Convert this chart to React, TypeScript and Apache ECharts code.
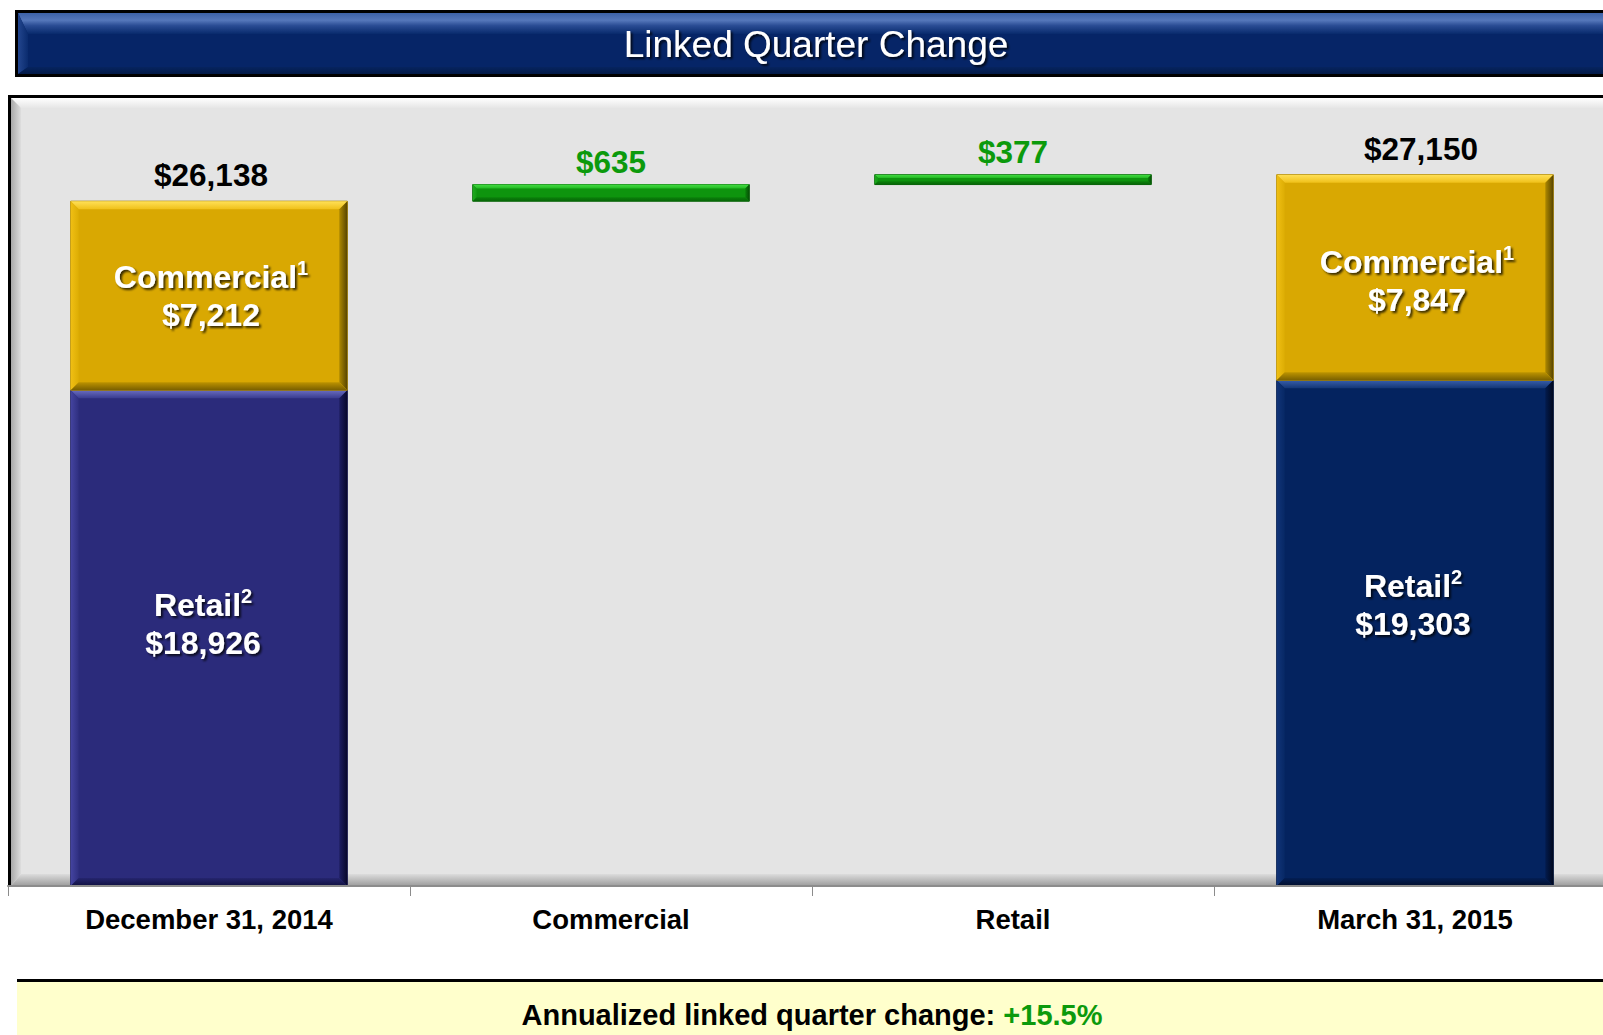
import React, { useEffect, useRef } from "react";
import * as echarts from "echarts";

// ---------- data ----------
const categories = ["December 31, 2014", "Commercial", "Retail", "March 31, 2015"];
const periodCategoryIndex = [0, 3];
const retailBalances = [18926, 19303];
const commercialBalances = [7212, 7847];
const periodTotals = [26138, 27150];
const changeCategoryIndex = [1, 2];
const changeValues = [635, 377];
const annualizedChange = "+15.5%";
const titleText = "Linked Quarter Change";
const bannerLabel = "Annualized linked quarter change: ";
const yAxisMax = 30000;

// ---------- styles ----------
const FONT = "Arial, 'Liberation Sans', Helvetica, sans-serif";
const BAR_RATIO = 0.688;
const retailLabelShift = [
  [-6, -14],
  [-2, -28],
];
const commercialLabelShift = [
  [2, 0],
  [2, 4],
];
const totalLabelShift = [2, 6];

const retailPalettes = [
  {
    face: "#2B2B7B",
    outline: "#1a1a55",
    top: ["#6A6DC0", "#3A3C90"],
    left: ["#4444a0", "#2f2f80"],
    right: ["#08082a", "#1e1e62"],
    bottom: ["#101040", "#25256e"],
  },
  {
    face: "#04235F",
    outline: "#021640",
    top: ["#385eaa", "#143676"],
    left: ["#113478", "#072865"],
    right: ["#00081e", "#031b4e"],
    bottom: ["#010e2c", "#031e54"],
  },
];
const commercialPalette = {
  face: "#D9A802",
  outline: "#a88200",
  top: ["#FFE058", "#F0C11A"],
  left: ["#F0BF14", "#DDAD04"],
  right: ["#574400", "#ad8800"],
  bottom: ["#7a6000", "#bd9400"],
};
const greenPalette = {
  face: "#0E940E",
  outline: "#0a600a",
  top: ["#44dd44", "#22b822"],
  left: ["#1faa1f", "#139a13"],
  right: ["#055005", "#0a800a"],
  bottom: ["#066606", "#0b820b"],
};

function grad(x: number, y: number, x2: number, y2: number, c0: string, c1: string) {
  return new echarts.graphic.LinearGradient(x, y, x2, y2, [
    { offset: 0, color: c0 },
    { offset: 1, color: c1 },
  ]);
}

function bevelRect(l: number, t: number, r: number, b: number, w: number, c: any) {
  return [
    {
      type: "rect",
      shape: { x: l, y: t, width: r - l, height: b - t },
      style: { fill: c.face, stroke: c.outline, lineWidth: 1 },
    },
    {
      type: "polygon",
      shape: { points: [[l, t], [r, t], [r - w, t + w], [l + w, t + w]] },
      style: { fill: grad(0, 0, 0, 1, c.top[0], c.top[1]) },
    },
    {
      type: "polygon",
      shape: { points: [[l, t], [l + w, t + w], [l + w, b - w], [l, b]] },
      style: { fill: grad(0, 0, 1, 0, c.left[0], c.left[1]) },
    },
    {
      type: "polygon",
      shape: { points: [[r, t], [r, b], [r - w, b - w], [r - w, t + w]] },
      style: { fill: grad(1, 0, 0, 0, c.right[0], c.right[1]) },
    },
    {
      type: "polygon",
      shape: { points: [[l, b], [l + w, b - w], [r - w, b - w], [r, b]] },
      style: { fill: grad(0, 1, 0, 0, c.bottom[0], c.bottom[1]) },
    },
  ];
}

const money = (v: number) => "$" + v.toLocaleString("en-US");

// ---------- series data built from arrays ----------
const retailData = periodCategoryIndex.map((c, i) => [c, 0, retailBalances[i], retailBalances[i]]);
const commercialData = periodCategoryIndex.map((c, i) => [
  c,
  retailBalances[i],
  retailBalances[i] + commercialBalances[i],
  commercialBalances[i],
  periodTotals[i],
]);
let running = periodTotals[0];
const changeData = changeCategoryIndex.map((c, i) => {
  const item = [c, running, running + changeValues[i], changeValues[i]];
  running += changeValues[i];
  return item;
});

function geom(api: any) {
  const cat = api.value(0);
  const p0 = api.coord([cat, api.value(1)]);
  const p1 = api.coord([cat, api.value(2)]);
  const bw = api.size([1, 0])[0] * BAR_RATIO;
  return { cx: p0[0], l: p0[0] - bw / 2, r: p0[0] + bw / 2, t: p1[1], b: p0[1] };
}

const whiteLabelStyle = {
  fill: "#ffffff",
  fontSize: 32,
  fontWeight: "bold",
  fontFamily: FONT,
  align: "center",
  verticalAlign: "middle",
  lineHeight: 38,
  textShadowColor: "rgba(0,0,0,0.75)",
  textShadowOffsetX: 2,
  textShadowOffsetY: 2,
  textShadowBlur: 2,
  rich: {
    s: {
      fill: "#ffffff",
      fontSize: 20,
      fontWeight: "bold",
      fontFamily: FONT,
      lineHeight: 28,
      verticalAlign: "top",
      textShadowColor: "rgba(0,0,0,0.75)",
      textShadowOffsetX: 2,
      textShadowOffsetY: 2,
      textShadowBlur: 2,
    },
  },
};

const renderRetail = (params: any, api: any) => {
  const g = geom(api);
  const i = params.dataIndex;
  const children: any[] = bevelRect(g.l, g.t, g.r, g.b, 8, retailPalettes[i]);
  children.push({
    type: "text",
    x: g.cx + retailLabelShift[i][0],
    y: (g.t + g.b) / 2 + retailLabelShift[i][1],
    style: { ...whiteLabelStyle, text: "Retail{s|2}\n" + money(api.value(3)) },
  });
  return { type: "group", children };
};

const renderCommercial = (params: any, api: any) => {
  const g = geom(api);
  const i = params.dataIndex;
  const children: any[] = bevelRect(g.l, g.t, g.r, g.b, 8, commercialPalette);
  children.push({
    type: "text",
    x: g.cx + commercialLabelShift[i][0],
    y: (g.t + g.b) / 2 + commercialLabelShift[i][1],
    style: { ...whiteLabelStyle, text: "Commercial{s|1}\n" + money(api.value(3)) },
  });
  children.push({
    type: "text",
    x: g.cx + totalLabelShift[i],
    y: g.t - 26,
    style: {
      text: money(api.value(4)),
      fill: "#000000",
      fontSize: 31.5,
      fontWeight: "bold",
      fontFamily: FONT,
      align: "center",
      verticalAlign: "middle",
    },
  });
  return { type: "group", children };
};

const renderChange = (params: any, api: any) => {
  const g = geom(api);
  const w = Math.min(4, (g.b - g.t) / 3);
  const children: any[] = bevelRect(g.l, g.t, g.r, g.b, w, greenPalette);
  children.push({
    type: "text",
    x: g.cx,
    y: g.t - 23,
    style: {
      text: money(api.value(3)),
      fill: "#0C9A0C",
      fontSize: 31.5,
      fontWeight: "bold",
      fontFamily: FONT,
      align: "center",
      verticalAlign: "middle",
    },
  });
  return { type: "group", children };
};

// ---------- decorative frames ----------
const W = 1603;
const plotL = 8,
  plotT = 95,
  plotB = 886,
  plotR = 1640;
const titleL = 15,
  titleT = 10,
  titleB = 77,
  titleR = 1640;

const graphicElements: any[] = [
  // title bar
  { type: "rect", z: -5, shape: { x: titleL, y: titleT, width: titleR - titleL, height: titleB - titleT }, style: { fill: "#000000" } },
  { type: "rect", z: -4, shape: { x: titleL + 3, y: titleT + 3, width: titleR - titleL, height: titleB - titleT - 6 }, style: { fill: "#062567" } },
  {
    type: "polygon",
    z: -3,
    shape: { points: [[titleL + 3, titleT + 3], [titleR, titleT + 3], [titleR, titleT + 24], [titleL + 13, titleT + 24]] },
    style: { fill: new echarts.graphic.LinearGradient(0, 0, 0, 1, [
      { offset: 0, color: "#3d62a8" },
      { offset: 0.35, color: "#5577ba" },
      { offset: 0.6, color: "#2a4c94" },
      { offset: 1, color: "#082a6c" },
    ]) },
  },
  {
    type: "polygon",
    z: -3,
    shape: { points: [[titleL + 3, titleT + 3], [titleL + 13, titleT + 24], [titleL + 13, titleB - 10], [titleL + 3, titleB - 3]] },
    style: { fill: grad(0, 0, 1, 0, "#23468e", "#0a2b6e") },
  },
  {
    type: "polygon",
    z: -3,
    shape: { points: [[titleL + 3, titleB - 3], [titleL + 13, titleB - 10], [titleR, titleB - 10], [titleR, titleB - 3]] },
    style: { fill: grad(0, 0, 0, 1, "#06245f", "#021a48") },
  },
  {
    type: "text",
    z: 5,
    x: 816,
    y: 44,
    style: {
      text: titleText,
      fill: "#ffffff",
      fontSize: 37,
      fontFamily: FONT,
      align: "center",
      verticalAlign: "middle",
      textShadowColor: "rgba(0,0,0,0.8)",
      textShadowOffsetX: 2,
      textShadowOffsetY: 2,
      textShadowBlur: 2,
    },
  },
  // plot background box
  { type: "rect", z: -5, shape: { x: plotL, y: plotT, width: plotR - plotL, height: plotB - plotT }, style: { fill: "#000000" } },
  { type: "rect", z: -4, shape: { x: plotL + 3, y: plotT + 3, width: plotR - plotL, height: plotB - plotT - 3 }, style: { fill: "#e4e4e4" } },
  {
    type: "polygon",
    z: -3,
    shape: { points: [[plotL + 3, plotT + 3], [plotR, plotT + 3], [plotR, plotT + 13], [plotL + 13, plotT + 13]] },
    style: { fill: grad(0, 0, 0, 1, "#ffffff", "#e6e6e6") },
  },
  {
    type: "polygon",
    z: -3,
    shape: { points: [[plotL + 3, plotT + 3], [plotL + 13, plotT + 13], [plotL + 13, plotB - 12], [plotL + 3, plotB]] },
    style: { fill: grad(0, 0, 1, 0, "#a9a9a9", "#dedede") },
  },
  {
    type: "polygon",
    z: -3,
    shape: { points: [[plotL + 3, plotB], [plotL + 13, plotB - 12], [plotR, plotB - 12], [plotR, plotB]] },
    style: { fill: grad(0, 0, 0, 1, "#dcdcdc", "#9c9c9c") },
  },
  // bottom banner
  { type: "rect", z: -5, shape: { x: 17, y: 979, width: W, height: 3 }, style: { fill: "#000000" } },
  { type: "rect", z: -5, shape: { x: 17, y: 982, width: W, height: 60 }, style: { fill: "#FFFFCC" } },
  {
    type: "text",
    z: 5,
    x: 812,
    y: 1015,
    style: {
      text: "{a|" + bannerLabel + "}{g|" + annualizedChange + "}",
      align: "center",
      verticalAlign: "middle",
      rich: {
        a: { fill: "#000000", fontSize: 29, fontWeight: "bold", fontFamily: FONT },
        g: { fill: "#0C9A0C", fontSize: 29, fontWeight: "bold", fontFamily: FONT },
      },
    },
  },
];

const option: any = {
  animation: false,
  backgroundColor: "#ffffff",
  grid: {
    left: plotL,
    top: 100,
    width: 1608,
    height: plotB - 100,
    containLabel: false,
    outerBoundsMode: "none",
  },
  xAxis: {
    type: "category",
    data: categories,
    z: 10,
    axisLine: { show: true, lineStyle: { color: "#8c8c8c", width: 2 } },
    axisTick: { show: true, length: 10, lineStyle: { color: "#8c8c8c", width: 1 } },
    axisLabel: {
      interval: 0,
      margin: 19,
      fontSize: 27.5,
      fontWeight: "bold",
      color: "#000000",
      fontFamily: FONT,
    },
  },
  yAxis: { type: "value", min: 0, max: yAxisMax, show: false, splitLine: { show: false } },
  graphic: { elements: graphicElements },
  series: [
    { type: "custom", name: "Retail", renderItem: renderRetail, encode: { x: 0, y: [1, 2] }, data: retailData, z: 3 },
    { type: "custom", name: "Commercial", renderItem: renderCommercial, encode: { x: 0, y: [1, 2] }, data: commercialData, z: 3 },
    { type: "custom", name: "Change", renderItem: renderChange, encode: { x: 0, y: [1, 2] }, data: changeData, z: 3 },
  ],
};

export default function App() {
  const ref = useRef<HTMLDivElement>(null);
  useEffect(() => {
    const chart = echarts.init(ref.current!, null, { renderer: "svg" });
    chart.setOption(option);
    return () => chart.dispose();
  }, []);
  return (
    <div
      ref={ref}
      style={{ position: "fixed", left: 0, top: 0, width: 1603, height: 1035, background: "#ffffff" }}
    />
  );
}
